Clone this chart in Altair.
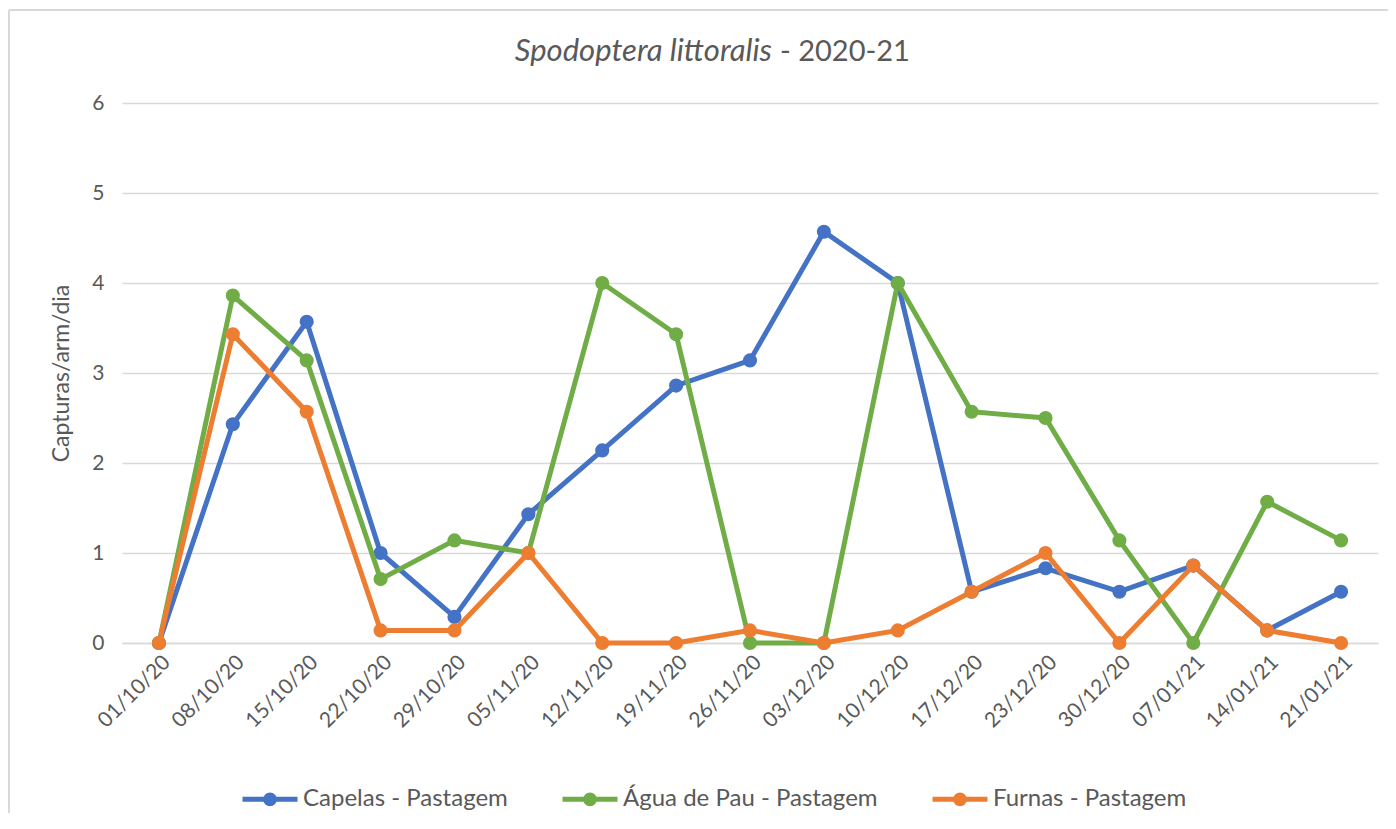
import altair as alt
import pandas as pd

dates = ["01/10/20", "08/10/20", "15/10/20", "22/10/20", "29/10/20", "05/11/20",
         "12/11/20", "19/11/20", "26/11/20", "03/12/20", "10/12/20", "17/12/20",
         "23/12/20", "30/12/20", "07/01/21", "14/01/21", "21/01/21"]

capelas = [0, 2.43, 3.57, 1.0, 0.29, 1.43, 2.14, 2.86, 3.14, 4.57, 4.0, 0.57,
           0.83, 0.57, 0.86, 0.14, 0.57]
agua = [0, 3.86, 3.14, 0.71, 1.14, 1.0, 4.0, 3.43, 0, 0, 4.0, 2.57,
        2.5, 1.14, 0, 1.57, 1.14]
furnas = [0, 3.43, 2.57, 0.14, 0.14, 1.0, 0, 0, 0.14, 0, 0.14, 0.57,
          1.0, 0, 0.86, 0.14, 0]

series_names = ["Capelas - Pastagem", "Água de Pau - Pastagem", "Furnas - Pastagem"]
series_colors = ["#4472C4", "#70AD47", "#ED7D31"]
series_values = [capelas, agua, furnas]

rows = []
for name, vals in zip(series_names, series_values):
    for d, v in zip(dates, vals):
        rows.append({"data": d, "serie": name, "valor": v})
df = pd.DataFrame(rows)

FONT = "Lato"
GREY = "#595959"

legend_symbol = ("M-1,0L1,0"
                 "M-0.16,0A0.16,0.16,0,1,1,0.16,0A0.16,0.16,0,1,1,-0.16,0"
                 "M-0.06,0A0.06,0.06,0,1,1,0.06,0A0.06,0.06,0,1,1,-0.06,0")

x_enc = alt.X("data:O", sort=dates, scale=alt.Scale(domain=dates, type="point", padding=0.5),
              axis=alt.Axis(title=None, labelAngle=-45, labelFontSize=21, labelColor=GREY,
                            labelFont=FONT, ticks=False, domain=True, domainColor="#d9d9d9",
                            domainWidth=1.3, labelPadding=8, grid=False))
y_enc = alt.Y("valor:Q", scale=alt.Scale(domain=[0, 6], nice=False),
              axis=alt.Axis(title="Capturas/arm/dia", titleFontSize=23, titleColor=GREY,
                            titleFont=FONT, titleFontWeight="normal", titlePadding=18,
                            values=[0, 1, 2, 3, 4, 5, 6], labelFontSize=21, labelColor=GREY,
                            labelFont=FONT, labelPadding=18, ticks=False, domain=False,
                            grid=True, gridColor="#d9d9d9", gridWidth=1.3))
color_enc = alt.Color("serie:N", scale=alt.Scale(domain=series_names, range=series_colors),
                      legend=alt.Legend(title=None, orient="none", direction="horizontal",
                                        legendX=118, legendY=666, symbolType=legend_symbol,
                                        symbolSize=3025, symbolStrokeWidth=5,
                                        labelFontSize=24, labelFont=FONT, labelColor=GREY,
                                        labelLimit=500, columnPadding=44, labelOffset=3,
                                        symbolOffset=0))

frame_df = pd.DataFrame({"a": [1]})
frame_top = alt.Chart(frame_df).mark_rule(stroke="#d9d9d9", strokeWidth=2).encode(
    x=alt.value(-113), x2=alt.value(1300), y=alt.value(-93))
frame_left = alt.Chart(frame_df).mark_rule(stroke="#d9d9d9", strokeWidth=2).encode(
    x=alt.value(-113), y=alt.value(-93), y2=alt.value(760))

layers = [frame_top, frame_left]
for name in series_names:
    base = alt.Chart(df).transform_filter(alt.datum.serie == name)
    layers.append(base.mark_line(strokeWidth=5).encode(x=x_enc, y=y_enc, color=color_enc))
    layers.append(base.mark_circle(size=200, opacity=1).encode(x=x_enc, y=y_enc, color=color_enc))

title_it = alt.Chart(frame_df).mark_text(text="Spodoptera littoralis", font=FONT, fontSize=31,
                                         fontStyle="italic", color=GREY, align="right",
                                         baseline="middle").encode(
    x=alt.value(650), y=alt.value(-51))
title_rest = alt.Chart(frame_df).mark_text(text="- 2020-21", font=FONT, fontSize=29,
                                           color=GREY, align="left",
                                           baseline="middle").encode(
    x=alt.value(658), y=alt.value(-51))

chart = alt.layer(*layers, title_it, title_rest).properties(
    width=1256, height=540,
    autosize=alt.AutoSizeParams(type="none"),
    padding={"left": 114, "top": 95, "right": 10, "bottom": 170},
).configure_view(stroke=None)

chart.save("out.html", embed_options={"renderer": "svg", "actions": False})
